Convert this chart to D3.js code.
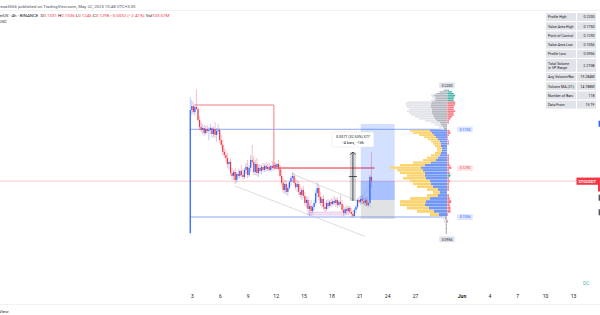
<!DOCTYPE html>
<html>
<head>
<meta charset="utf-8">
<title>STOUSDT 4h</title>
<script src="https://d3js.org/d3.v7.min.js"></script>
<style>
  html, body { margin: 0; padding: 0; background: #fff; }
  svg { display: block; font-family: Roboto, "Noto Sans", sans-serif; }
</style>
</head>
<body>
<div id="chart"></div>
<script>
// 4h candles, first bar May 2 19:30 (chart time)
var opens = [
  0.0963, 0.1956, 0.2001, 0.1933, 0.1990, 0.1967, 0.1846, 0.1773, 0.1743, 0.1763,
  0.1713, 0.1753, 0.1733, 0.1743, 0.1763, 0.1703, 0.1753, 0.1694, 0.1733, 0.1743,
  0.1645, 0.1599, 0.1536, 0.1509, 0.1484, 0.1433, 0.1450, 0.1361, 0.1338, 0.1369,
  0.1307, 0.1353, 0.1338, 0.1377, 0.1345, 0.1330, 0.1385, 0.1409, 0.1345, 0.1401,
  0.1467, 0.1450, 0.1369, 0.1433, 0.1361, 0.1401, 0.1377, 0.1409, 0.1385, 0.1417,
  0.1393, 0.1409, 0.1385, 0.1417, 0.1401, 0.1425, 0.1409, 0.1433, 0.1393, 0.1338,
  0.1285, 0.1234, 0.1277, 0.1220, 0.1248, 0.1292, 0.1322, 0.1338, 0.1285, 0.1255,
  0.1277, 0.1220, 0.1199, 0.1234, 0.1192, 0.1145, 0.1165, 0.1106, 0.1125, 0.1093,
  0.1119, 0.1145, 0.1213, 0.1248, 0.1185, 0.1145, 0.1172, 0.1119, 0.1106, 0.1145,
  0.1125, 0.1152, 0.1138, 0.1158, 0.1145, 0.1165, 0.1132, 0.1152, 0.1138, 0.1100,
  0.1081, 0.1106, 0.1093, 0.1113, 0.1087, 0.1075, 0.1062, 0.1100, 0.1119, 0.1165,
  0.1152, 0.1172, 0.1158, 0.1145, 0.1165, 0.1132, 0.1145, 0.1331
];
var highs = [
  0.2108, 0.2072, 0.2048, 0.2024, 0.2200, 0.1990, 0.1889, 0.1825, 0.1804, 0.1794,
  0.1784, 0.1794, 0.1773, 0.1804, 0.1784, 0.1773, 0.1825, 0.1763, 0.1804, 0.1763,
  0.1694, 0.1645, 0.1571, 0.1553, 0.1527, 0.1467, 0.1484, 0.1401, 0.1385, 0.1401,
  0.1369, 0.1393, 0.1385, 0.1425, 0.1393, 0.1401, 0.1441, 0.1467, 0.1425, 0.1509,
  0.1599, 0.1501, 0.1467, 0.1484, 0.1425, 0.1433, 0.1425, 0.1441, 0.1433, 0.1450,
  0.1433, 0.1441, 0.1425, 0.1458, 0.1441, 0.1450, 0.1441, 0.1467, 0.1425, 0.1385,
  0.1322, 0.1307, 0.1307, 0.1270, 0.1307, 0.1338, 0.1369, 0.1361, 0.1322, 0.1307,
  0.1300, 0.1263, 0.1248, 0.1263, 0.1220, 0.1185, 0.1192, 0.1145, 0.1165, 0.1132,
  0.1165, 0.1234, 0.1292, 0.1270, 0.1220, 0.1192, 0.1199, 0.1152, 0.1165, 0.1172,
  0.1165, 0.1178, 0.1172, 0.1192, 0.1178, 0.1185, 0.1165, 0.1199, 0.1165, 0.1132,
  0.1119, 0.1132, 0.1125, 0.1125, 0.1113, 0.1100, 0.1113, 0.1132, 0.1178, 0.1192,
  0.1192, 0.1199, 0.1185, 0.1178, 0.1185, 0.1165, 0.1345, 0.1536
];
var lows = [
  0.0956, 0.1900, 0.1911, 0.1889, 0.1956, 0.1825, 0.1743, 0.1723, 0.1703, 0.1684,
  0.1694, 0.1713, 0.1645, 0.1703, 0.1665, 0.1674, 0.1665, 0.1627, 0.1703, 0.1617,
  0.1571, 0.1509, 0.1484, 0.1450, 0.1401, 0.1385, 0.1338, 0.1307, 0.1307, 0.1277,
  0.1285, 0.1322, 0.1315, 0.1330, 0.1307, 0.1315, 0.1353, 0.1322, 0.1330, 0.1369,
  0.1425, 0.1345, 0.1345, 0.1338, 0.1330, 0.1353, 0.1353, 0.1369, 0.1369, 0.1369,
  0.1377, 0.1377, 0.1369, 0.1385, 0.1377, 0.1393, 0.1385, 0.1377, 0.1322, 0.1263,
  0.1213, 0.1206, 0.1199, 0.1192, 0.1234, 0.1263, 0.1292, 0.1270, 0.1234, 0.1220,
  0.1199, 0.1178, 0.1165, 0.1178, 0.1125, 0.1113, 0.1087, 0.1062, 0.1069, 0.1075,
  0.1100, 0.1132, 0.1185, 0.1165, 0.1125, 0.1113, 0.1100, 0.1087, 0.1093, 0.1106,
  0.1113, 0.1119, 0.1125, 0.1132, 0.1119, 0.1113, 0.1119, 0.1125, 0.1087, 0.1062,
  0.1069, 0.1075, 0.1081, 0.1075, 0.1056, 0.1050, 0.1056, 0.1081, 0.1106, 0.1138,
  0.1132, 0.1138, 0.1132, 0.1125, 0.1119, 0.1119, 0.1132, 0.1246
];
var closes = [
  0.1956, 0.2001, 0.1933, 0.1990, 0.1967, 0.1846, 0.1773, 0.1743, 0.1763, 0.1713,
  0.1753, 0.1733, 0.1743, 0.1763, 0.1703, 0.1753, 0.1694, 0.1733, 0.1743, 0.1645,
  0.1599, 0.1536, 0.1509, 0.1484, 0.1433, 0.1450, 0.1361, 0.1338, 0.1369, 0.1307,
  0.1353, 0.1338, 0.1377, 0.1345, 0.1330, 0.1385, 0.1409, 0.1345, 0.1401, 0.1467,
  0.1450, 0.1369, 0.1433, 0.1361, 0.1401, 0.1377, 0.1409, 0.1385, 0.1417, 0.1393,
  0.1409, 0.1385, 0.1417, 0.1401, 0.1425, 0.1409, 0.1433, 0.1393, 0.1338, 0.1285,
  0.1234, 0.1277, 0.1220, 0.1248, 0.1292, 0.1322, 0.1338, 0.1285, 0.1255, 0.1277,
  0.1220, 0.1199, 0.1234, 0.1192, 0.1145, 0.1165, 0.1106, 0.1125, 0.1093, 0.1119,
  0.1145, 0.1213, 0.1248, 0.1185, 0.1145, 0.1172, 0.1119, 0.1106, 0.1145, 0.1125,
  0.1152, 0.1138, 0.1158, 0.1145, 0.1165, 0.1132, 0.1152, 0.1138, 0.1100, 0.1081,
  0.1106, 0.1093, 0.1113, 0.1087, 0.1075, 0.1062, 0.1100, 0.1119, 0.1165, 0.1152,
  0.1172, 0.1158, 0.1145, 0.1165, 0.1132, 0.1145, 0.1331, 0.1298
];

// volume profile rows, bottom (0.0956) to top (0.2200)
var vpUp = [
  1, 1, 1, 1, 2, 8, 13, 18, 22, 21,
  17, 9, 7, 9, 14, 16, 17, 21, 22, 22,
  24, 26, 22, 16, 11, 9, 7, 6, 5, 5,
  6, 6, 7, 9, 11, 13, 15, 17, 3, 4,
  6, 7, 10, 12, 13, 14, 15, 15, 15, 16,
  16, 16, 15, 12, 11, 12, 13, 10, 7, 3
];
var vpDown = [
  1, 1, 1, 2, 2, 9, 17, 22, 25, 26,
  20, 11, 7, 11, 16, 18, 20, 23, 18, 25,
  26, 31, 25, 18, 13, 11, 9, 6, 5, 5,
  6, 8, 9, 10, 12, 15, 19, 20, 3, 4,
  6, 9, 12, 16, 19, 22, 23, 25, 23, 24,
  25, 26, 25, 4, 3, 3, 3, 2, 1, 1
];
var profileHigh = 0.2200, profileLow = 0.0956;
var valueAreaHigh = 0.1750, valueAreaLow = 0.1056;
var pocLevel = 0.1400;

// developing POC steps (bar index, price)
var devPocBars = [3, 54, 118.9];
var devPocPrices = [0.2013, 0.1400, 0.1400];

// stats table
var statLabels = ['Profile High', 'Value Area High', 'Point of Control', 'Value Area Low', 'Profile Low',
  'Total Volume|in VP Range', 'Avg Volume/Bar', 'Volume MA (21)', 'Number of Bars', 'Data From'];
var statValues = ['0.2200', '0.1750', '0.1290', '0.1056', '0.0956', '2.275B', '19.284M', '14.788M', '118', '15 TF'];

// time axis
var tickDates = ['2025-05-03', '2025-05-06', '2025-05-09', '2025-05-12', '2025-05-15', '2025-05-18',
  '2025-05-21', '2025-05-24', '2025-05-27', '2025-06-01', '2025-06-04', '2025-06-07', '2025-06-10', '2025-06-13'];
var tickLabels = ['3', '6', '9', '12', '15', '18', '21', '24', '27', 'Jun', '4', '7', '10', '13'];

var svg = d3.select('#chart').append('svg')
  .attr('width', 600)
  .attr('height', 315);

var start = Date.UTC(2025, 4, 2, 19, 30);
var parseDay = d3.utcParse('%Y-%m-%d');
var x = d3.scaleUtc()
  .domain([parseDay('2025-05-03'), parseDay('2025-06-13')])
  .range([192, 573]);
function bx(i) { return x(new Date(start + i * 4 * 3600 * 1000)); }
var y = d3.scaleLog()
  .domain([valueAreaHigh, valueAreaLow])
  .range([129.3, 217]);

var upColor = '#2962ff', downColor = '#f23645';

// header
svg.append('text')
  .attr('x', -1).attr('y', 7.5)
  .attr('font-size', 4.3).attr('fill', '#50535e')
  .text('reza5566 published on TradingView.com, May 22, 2025 10:48 UTC+3:30');
svg.append('line')
  .attr('x1', 0).attr('x2', 600).attr('y1', 10.5).attr('y2', 10.5)
  .attr('stroke', '#e6e8ee').attr('stroke-width', 0.6);

var legendParts = [
  ['erUS · 4h · BINANCE  ', '#131722'], ['O', '#131722'], ['0.1331', downColor],
  [' H', '#131722'], ['0.1536', downColor], [' L', '#131722'], ['0.1246', downColor],
  [' C', '#131722'], ['0.1298', downColor], [' −0.0032 (−2.41%)', downColor],
  [' Vol', '#131722'], ['103.57M', downColor]
];
var legend = svg.append('text')
  .attr('x', -1).attr('y', 16.5)
  .attr('font-size', 4.4)
  .attr('xml:space', 'preserve');
legendParts.forEach(function(p) {
  legend.append('tspan').attr('fill', p[1]).text(p[0]);
});
svg.append('text')
  .attr('x', -1).attr('y', 22.5)
  .attr('font-size', 4.4).attr('fill', '#131722')
  .text('JSC');

// last price line
var lastClose = closes[closes.length - 1];
svg.append('line')
  .attr('x1', 0).attr('x2', 577)
  .attr('y1', y(lastClose)).attr('y2', y(lastClose))
  .attr('stroke', '#f7a3a9').attr('stroke-width', 0.6);

// value area lines
[valueAreaHigh, valueAreaLow].forEach(function(p) {
  svg.append('line')
    .attr('x1', bx(0)).attr('x2', 447)
    .attr('y1', y(p)).attr('y2', y(p))
    .attr('stroke', '#6f93f4').attr('stroke-width', 0.8);
});

// falling channel
var channelLines = [
  { b0: 28.9, p0: 0.1263, b1: 112.8, p1: 0.0944 },
  { b0: 65.3, p0: 0.1357, b1: 116.9, p1: 0.1119 }
];
svg.selectAll('.channel')
  .data(channelLines)
  .enter()
  .append('line')
  .attr('class', 'channel')
  .attr('x1', function(d) { return bx(d.b0); })
  .attr('y1', function(d) { return y(d.p0); })
  .attr('x2', function(d) { return bx(d.b1); })
  .attr('y2', function(d) { return y(d.p1); })
  .attr('stroke', '#c3c6ce').attr('stroke-width', 0.6);

// support zone
svg.append('rect')
  .attr('x', bx(76)).attr('width', bx(102) - bx(76))
  .attr('y', y(0.1087)).attr('height', y(0.1068) - y(0.1087))
  .attr('fill', 'rgba(206,147,216,0.25)')
  .attr('stroke', 'rgba(186,104,200,0.45)').attr('stroke-width', 0.5);

// candles
var candles = opens.map(function(o, i) {
  return { i: i, o: o, h: highs[i], l: lows[i], c: closes[i] };
});
var cg = svg.append('g');
cg.selectAll('.wick')
  .data(candles)
  .enter()
  .append('line')
  .attr('x1', function(d) { return bx(d.i); })
  .attr('x2', function(d) { return bx(d.i); })
  .attr('y1', function(d) { return y(d.h); })
  .attr('y2', function(d) { return y(d.l); })
  .attr('stroke', function(d) { return d.c >= d.o ? upColor : downColor; })
  .attr('stroke-opacity', 0.55)
  .attr('stroke-width', 0.6);
cg.selectAll('.body')
  .data(candles)
  .enter()
  .append('rect')
  .attr('x', function(d) { return bx(d.i) - 0.6; })
  .attr('width', 1.2)
  .attr('y', function(d) { return y(Math.max(d.o, d.c)); })
  .attr('height', function(d) { return Math.max(0.7, Math.abs(y(d.o) - y(d.c))); })
  .attr('fill', function(d) { return d.c >= d.o ? upColor : downColor; });

// developing POC
var devPoc = devPocBars.map(function(b, i) { return [bx(b), y(devPocPrices[i])]; });
svg.append('path')
  .attr('d', d3.line().curve(d3.curveStepAfter)(devPoc))
  .attr('fill', 'none')
  .attr('stroke', '#f4717b').attr('stroke-width', 0.9);
svg.append('line')
  .attr('x1', bx(devPocBars[1])).attr('x2', bx(devPocBars[2]))
  .attr('y1', y(devPocPrices[1])).attr('y2', y(devPocPrices[2]))
  .attr('stroke', 'rgba(242,54,69,0.35)').attr('stroke-width', 2);

// long position tool
var posStart = 110.1, posEnd = 132, entry = 0.1165, target = 0.1804, stop = 0.1044;
var pw = bx(posEnd) - bx(posStart);
svg.append('rect')
  .attr('x', bx(posStart)).attr('width', pw)
  .attr('y', y(target)).attr('height', y(entry) - y(target))
  .attr('fill', 'rgba(41,98,255,0.2)');
svg.append('rect')
  .attr('x', bx(posStart)).attr('width', pw)
  .attr('y', y(lastClose)).attr('height', y(entry) - y(lastClose))
  .attr('fill', 'rgba(41,98,255,0.25)');
svg.append('rect')
  .attr('x', bx(posStart)).attr('width', pw)
  .attr('y', y(entry)).attr('height', y(stop) - y(entry))
  .attr('fill', 'rgba(120,123,134,0.22)');
svg.append('line')
  .attr('x1', bx(posStart)).attr('y1', y(entry))
  .attr('x2', bx(closes.length - 1)).attr('y2', y(lastClose))
  .attr('stroke', '#9598a1').attr('stroke-width', 0.5)
  .attr('stroke-dasharray', '1,1');

// date and price range
var rangeFrom = 103, rangeTo = 107, rangeLow = 0.1158, rangeHigh = 0.1535;
var rMid = (bx(rangeFrom) + bx(rangeTo)) / 2;
svg.append('rect')
  .attr('x', bx(rangeFrom)).attr('width', bx(rangeTo) - bx(rangeFrom))
  .attr('y', y(rangeHigh)).attr('height', y(rangeLow) - y(rangeHigh))
  .attr('fill', 'rgba(120,123,134,0.3)');
svg.append('line')
  .attr('x1', rMid).attr('x2', rMid)
  .attr('y1', y(rangeLow)).attr('y2', y(rangeHigh))
  .attr('stroke', '#131722').attr('stroke-width', 0.7);
svg.append('path')
  .attr('d', 'M' + (rMid - 2.6) + ',' + (y(rangeHigh) + 2.6) + 'L' + rMid + ',' + y(rangeHigh) + 'L' + (rMid + 2.6) + ',' + (y(rangeHigh) + 2.6))
  .attr('fill', 'none').attr('stroke', '#131722').attr('stroke-width', 0.7);
var rMidY = y(Math.sqrt(rangeLow * rangeHigh));
svg.append('line')
  .attr('x1', bx(rangeFrom) - 1).attr('x2', bx(rangeTo) + 1)
  .attr('y1', rMidY).attr('y2', rMidY)
  .attr('stroke', '#131722').attr('stroke-width', 0.7);
var tip = svg.append('g').attr('transform', 'translate(' + rMid + ',' + (y(rangeHigh) - 20) + ')');
tip.append('rect')
  .attr('x', -21).attr('y', 0).attr('width', 42).attr('height', 15).attr('rx', 1.5)
  .attr('fill', '#fff').attr('stroke', '#e0e3eb').attr('stroke-width', 0.5);
tip.append('text')
  .attr('y', 6.3).attr('text-anchor', 'middle')
  .attr('font-size', 3.7).attr('fill', '#131722')
  .text('0.0377 (32.53%) 377');
tip.append('text')
  .attr('y', 12).attr('text-anchor', 'middle')
  .attr('font-size', 3.7).attr('fill', '#131722')
  .text('−4 bars, −16h');

// volume profile
var vpRight = 447, vpMax = 57;
var rowStep = (profileHigh - profileLow) / vpUp.length;
var vpW = d3.scaleLinear()
  .domain([0, d3.max(vpUp, function(u, i) { return u + vpDown[i]; })])
  .range([0, vpMax]);
var rows = vpUp.map(function(u, i) {
  var p0 = profileLow + i * rowStep, p1 = p0 + rowStep, mid = (p0 + p1) / 2;
  return { up: u, down: vpDown[i], p0: p0, p1: p1, inVA: mid >= valueAreaLow && mid <= valueAreaHigh };
});
var vg = svg.append('g');
rows.forEach(function(r) {
  var top = y(r.p1), h = Math.max(0.5, y(r.p0) - top - 0.3);
  var wu = vpW(r.up), wd = vpW(r.down);
  vg.append('rect')
    .attr('x', vpRight - wu - wd).attr('width', wd)
    .attr('y', top).attr('height', h)
    .attr('fill', r.inVA ? '#fbd36f' : '#e1e3e8');
  vg.append('rect')
    .attr('x', vpRight - wu).attr('width', wu)
    .attr('y', top).attr('height', h)
    .attr('fill', r.inVA ? '#7096f6' : '#b2b5be');
  var delta = r.up - r.down;
  if (delta !== 0) {
    vg.append('rect')
      .attr('x', vpRight + 0.3).attr('width', Math.abs(delta) * 0.8)
      .attr('y', top).attr('height', h)
      .attr('fill', delta > 0 ? '#4db6ac' : '#f77c86');
  }
});

// profile level tags
function tag(cx, cy, text, bg, fg) {
  var g = svg.append('g').attr('transform', 'translate(' + cx + ',' + cy + ')');
  g.append('rect').attr('x', -7.8).attr('y', -2.9).attr('width', 15.6).attr('height', 5.8)
    .attr('rx', 1).attr('fill', bg);
  g.append('text').attr('y', 1.3).attr('text-anchor', 'middle')
    .attr('font-size', 3.5).attr('fill', fg).text(text);
}
tag(vpRight, y(profileHigh) - 4.2, '0.2200', '#e0e3eb', '#131722');
tag(vpRight, y(profileLow) + 5, '0.0956', '#e0e3eb', '#131722');
tag(465, y(valueAreaHigh), '0.1750', '#dfe7ff', '#2962ff');
tag(465, y(pocLevel), '0.1290', '#fde4e6', '#f23645');
tag(465, y(valueAreaLow), '0.1056', '#dfe7ff', '#2962ff');

// stats table
var ty = 13;
statLabels.forEach(function(label, i) {
  var lines = label.split('|');
  var h = lines.length > 1 ? 12.8 : 8;
  svg.append('rect').attr('x', 546).attr('y', ty).attr('width', 30).attr('height', h).attr('fill', '#e1e3e8');
  svg.append('rect').attr('x', 577).attr('y', ty).attr('width', 19).attr('height', h).attr('fill', '#e1e3e8');
  lines.forEach(function(t, k) {
    svg.append('text')
      .attr('x', 548).attr('y', ty + h / 2 + 1.3 + (k - (lines.length - 1) / 2) * 4.2)
      .attr('font-size', 3.6).attr('fill', '#131722').text(t);
  });
  svg.append('text')
    .attr('x', 594.5).attr('y', ty + h / 2 + 1.3)
    .attr('text-anchor', 'end')
    .attr('font-size', 3.6).attr('fill', '#131722').text(statValues[i]);
  ty += h + 1.2;
});

// price scale tags cut at the right edge
svg.append('rect')
  .attr('x', 576.5).attr('y', y(lastClose) - 3.6).attr('width', 21.5).attr('height', 7.2)
  .attr('fill', downColor);
svg.append('text')
  .attr('x', 587.2).attr('y', y(lastClose) + 1.4).attr('text-anchor', 'middle')
  .attr('font-size', 4).attr('font-weight', 600).attr('fill', '#fff').text('STOUSDT');
svg.append('rect')
  .attr('x', 598).attr('y', y(lastClose) - 3.6).attr('width', 2).attr('height', 14)
  .attr('fill', downColor);
var edgeTags = [[0.1807, '#2962ff'], [0.1180, '#50535e'], [0.1085, '#50535e']];
edgeTags.forEach(function(t) {
  svg.append('rect')
    .attr('x', 598.6).attr('y', y(t[0]) - 3).attr('width', 1.4).attr('height', 6)
    .attr('fill', t[1]);
});

// time axis
var xAxis = d3.axisBottom(x)
  .tickValues(tickDates.map(parseDay))
  .tickFormat(function(d, i) { return tickLabels[i]; })
  .tickSize(0)
  .tickPadding(0);
var ax = svg.append('g')
  .attr('transform', 'translate(0,296)')
  .call(xAxis);
ax.select('.domain').remove();
ax.selectAll('text')
  .attr('y', 0).attr('dy', '0.35em')
  .attr('font-size', 5).attr('fill', '#131722')
  .attr('font-family', 'Roboto, sans-serif')
  .attr('font-weight', function(d, i) { return tickLabels[i] === 'Jun' ? 700 : 400; });

svg.append('text')
  .attr('x', 583).attr('y', 285)
  .attr('font-size', 5).attr('fill', '#4db6ac').text('DC');

svg.append('line')
  .attr('x1', 0).attr('x2', 600).attr('y1', 304.5).attr('y2', 304.5)
  .attr('stroke', '#e6e8ee').attr('stroke-width', 0.6);
svg.append('text')
  .attr('x', -1).attr('y', 312.5)
  .attr('font-size', 4.4).attr('fill', '#131722').text('View');
</script>
</body>
</html>
